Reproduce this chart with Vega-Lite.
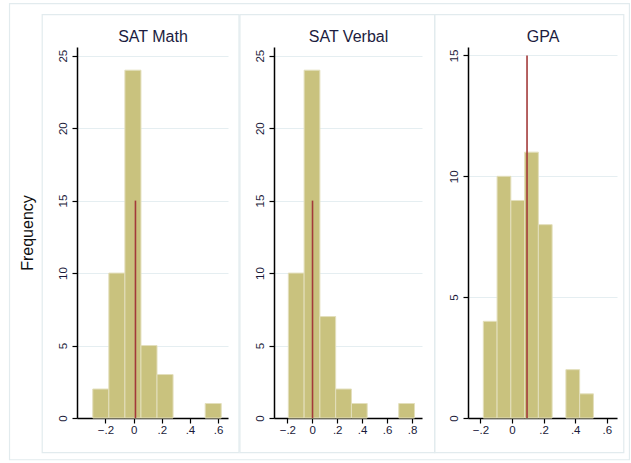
{
  "$schema": "https://vega.github.io/schema/vega-lite/v6.json",
  "background": "white",
  "padding": {"left": 8, "top": 3, "right": 0, "bottom": 0},
  "bounds": "flush",
  "spacing": 46,
  "datasets": {
    "math": [
      {"bin_start": -0.290, "bin_end": -0.176, "count": 2},
      {"bin_start": -0.176, "bin_end": -0.062, "count": 10},
      {"bin_start": -0.062, "bin_end": 0.052, "count": 24},
      {"bin_start": 0.052, "bin_end": 0.166, "count": 5},
      {"bin_start": 0.166, "bin_end": 0.280, "count": 3},
      {"bin_start": 0.508, "bin_end": 0.622, "count": 1}
    ],
    "verbal": [
      {"bin_start": -0.192, "bin_end": -0.0655, "count": 10},
      {"bin_start": -0.0655, "bin_end": 0.061, "count": 24},
      {"bin_start": 0.061, "bin_end": 0.1875, "count": 7},
      {"bin_start": 0.1875, "bin_end": 0.314, "count": 2},
      {"bin_start": 0.314, "bin_end": 0.4405, "count": 1},
      {"bin_start": 0.6935, "bin_end": 0.820, "count": 1}
    ],
    "gpa": [
      {"bin_start": -0.182, "bin_end": -0.0948, "count": 4},
      {"bin_start": -0.0948, "bin_end": -0.0076, "count": 10},
      {"bin_start": -0.0076, "bin_end": 0.0796, "count": 9},
      {"bin_start": 0.0796, "bin_end": 0.1668, "count": 11},
      {"bin_start": 0.1668, "bin_end": 0.254, "count": 8},
      {"bin_start": 0.3412, "bin_end": 0.4284, "count": 2},
      {"bin_start": 0.4284, "bin_end": 0.5156, "count": 1}
    ],
    "frame": [{"box": "panel"}]
  },
  "config": {
    "view": {"stroke": null},
    "font": "Liberation Sans",
    "axis": {
      "domainColor": "black", "domainWidth": 1.5,
      "tickColor": "black", "tickWidth": 1.2, "tickSize": 5, "tickCount": 12,
      "labelFont": "Liberation Sans", "labelFontSize": 11.5, "labelColor": "#1a1a3a",
      "titleFont": "Liberation Sans", "titleFontSize": 16, "titleFontWeight": "normal", "titleColor": "#111111",
      "labelOverlap": false, "labelFlush": false
    },
    "axisX": {"grid": false, "labelPadding": 1, "title": null, "labelOverlap": false},
    "axisY": {"grid": true, "gridColor": "#e5eef1", "gridWidth": 1, "labelAngle": -90, "labelPadding": 4, "titlePadding": 22}
  },
  "hconcat": [
    {
      "width": 151, "height": 371,
      "resolve": {"axis": {"x": "independent"}},
      "layer": [
        {
          "data": {"name": "frame"},
          "mark": {"type": "rect", "fill": "white", "fillOpacity": 0, "stroke": "#e2ebee", "strokeWidth": 1.2},
          "encoding": {
            "x": {"datum": -0.881, "type": "quantitative", "scale": {"domain": [-0.402, 0.67], "nice": false, "zero": false},
                  "axis": {"orient": "top", "title": "SAT Math", "domain": false, "ticks": false, "labels": false, "grid": false, "titlePadding": 6, "titleBaseline": "alphabetic", "titleColor": "#1c1c40"}},
            "x2": {"datum": 3.52},
            "y": {"datum": 28.59, "type": "quantitative", "scale": {"domain": [0, 25.6], "nice": false},
                  "axis": {"values": [0, 5, 10, 15, 20, 25], "tickCount": 12, "title": "Frequency"}},
            "y2": {"datum": -2.88}
          }
        },
        {
          "data": {"name": "frame"},
          "mark": {"type": "rect", "fill": "white", "fillOpacity": 0, "stroke": "#e2ebee", "strokeWidth": 1.2},
          "encoding": {
            "x": {"datum": -0.649, "type": "quantitative", "axis": null},
            "x2": {"datum": 0.748},
            "y": {"datum": 27.83, "type": "quantitative"},
            "y2": {"datum": -2.39}
          }
        },
        {
          "data": {"name": "math"},
          "mark": {"type": "bar", "fill": "#c9c27e", "stroke": "#e3dfbc", "strokeWidth": 1},
          "encoding": {
            "x": {"field": "bin_start", "type": "quantitative",
                  "axis": {"values": [-0.2, 0, 0.2, 0.4, 0.6], "tickCount": 12, "labelOverlap": false, "labelExpr": "datum.value == 0 ? '0' : replace(format(datum.value, '.1f'), '0.', '.')"}},
            "x2": {"field": "bin_end"},
            "y": {"field": "count", "type": "quantitative"},
            "y2": {"datum": 0}
          }
        },
        {
          "data": {"values": [{"mean": 0.013}]},
          "mark": {"type": "rule", "color": "#a33a3a", "strokeWidth": 1.6},
          "encoding": {
            "x": {"field": "mean", "type": "quantitative", "axis": null},
            "y": {"datum": 0, "type": "quantitative"},
            "y2": {"datum": 15}
          }
        }
      ]
    },
    {
      "width": 148, "height": 371,
      "resolve": {"axis": {"x": "independent"}},
      "layer": [
        {
          "data": {"name": "frame"},
          "mark": {"type": "rect", "fill": "white", "fillOpacity": 0, "stroke": "#e2ebee", "strokeWidth": 1.2},
          "encoding": {
            "x": {"datum": -0.580, "type": "quantitative", "scale": {"domain": [-0.307, 0.88], "nice": false, "zero": false},
                  "axis": {"orient": "top", "title": "SAT Verbal", "domain": false, "ticks": false, "labels": false, "grid": false, "titlePadding": 6, "titleBaseline": "alphabetic", "titleColor": "#1c1c40"}},
            "x2": {"datum": 0.982},
            "y": {"datum": 27.83, "type": "quantitative", "scale": {"domain": [0, 25.6], "nice": false},
                  "axis": {"values": [0, 5, 10, 15, 20, 25], "tickCount": 12, "title": null}},
            "y2": {"datum": -2.39}
          }
        },
        {
          "data": {"name": "verbal"},
          "mark": {"type": "bar", "fill": "#c9c27e", "stroke": "#e3dfbc", "strokeWidth": 1},
          "encoding": {
            "x": {"field": "bin_start", "type": "quantitative",
                  "axis": {"values": [-0.2, 0, 0.2, 0.4, 0.6, 0.8], "tickCount": 12, "labelOverlap": false, "labelExpr": "datum.value == 0 ? '0' : replace(format(datum.value, '.1f'), '0.', '.')"}},
            "x2": {"field": "bin_end"},
            "y": {"field": "count", "type": "quantitative"},
            "y2": {"datum": 0}
          }
        },
        {
          "data": {"values": [{"mean": 0.002}]},
          "mark": {"type": "rule", "color": "#a33a3a", "strokeWidth": 1.6},
          "encoding": {
            "x": {"field": "mean", "type": "quantitative", "axis": null},
            "y": {"datum": 0, "type": "quantitative"},
            "y2": {"datum": 15}
          }
        }
      ]
    },
    {
      "width": 149, "height": 371,
      "resolve": {"axis": {"x": "independent"}},
      "layer": [
        {
          "data": {"name": "frame"},
          "mark": {"type": "rect", "fill": "white", "fillOpacity": 0, "stroke": "#e2ebee", "strokeWidth": 1.2},
          "encoding": {
            "x": {"datum": -0.490, "type": "quantitative", "scale": {"domain": [-0.279, 0.665], "nice": false, "zero": false},
                  "axis": {"orient": "top", "title": "GPA", "domain": false, "ticks": false, "labels": false, "grid": false, "titlePadding": 6, "titleBaseline": "alphabetic", "titleColor": "#1c1c40"}},
            "x2": {"datum": 0.708},
            "y": {"datum": 16.69, "type": "quantitative", "scale": {"domain": [0, 15.35], "nice": false},
                  "axis": {"values": [0, 5, 10, 15], "tickCount": 12, "title": null}},
            "y2": {"datum": -1.436}
          }
        },
        {
          "data": {"name": "gpa"},
          "mark": {"type": "bar", "fill": "#c9c27e", "stroke": "#e3dfbc", "strokeWidth": 1},
          "encoding": {
            "x": {"field": "bin_start", "type": "quantitative",
                  "axis": {"values": [-0.2, 0, 0.2, 0.4, 0.6], "tickCount": 12, "labelOverlap": false, "labelExpr": "datum.value == 0 ? '0' : replace(format(datum.value, '.1f'), '0.', '.')"}},
            "x2": {"field": "bin_end"},
            "y": {"field": "count", "type": "quantitative"},
            "y2": {"datum": 0}
          }
        },
        {
          "data": {"values": [{"mean": 0.095}]},
          "mark": {"type": "rule", "color": "#a33a3a", "strokeWidth": 1.6},
          "encoding": {
            "x": {"field": "mean", "type": "quantitative", "axis": null},
            "y": {"datum": 0, "type": "quantitative"},
            "y2": {"datum": 15}
          }
        }
      ]
    }
  ]
}
